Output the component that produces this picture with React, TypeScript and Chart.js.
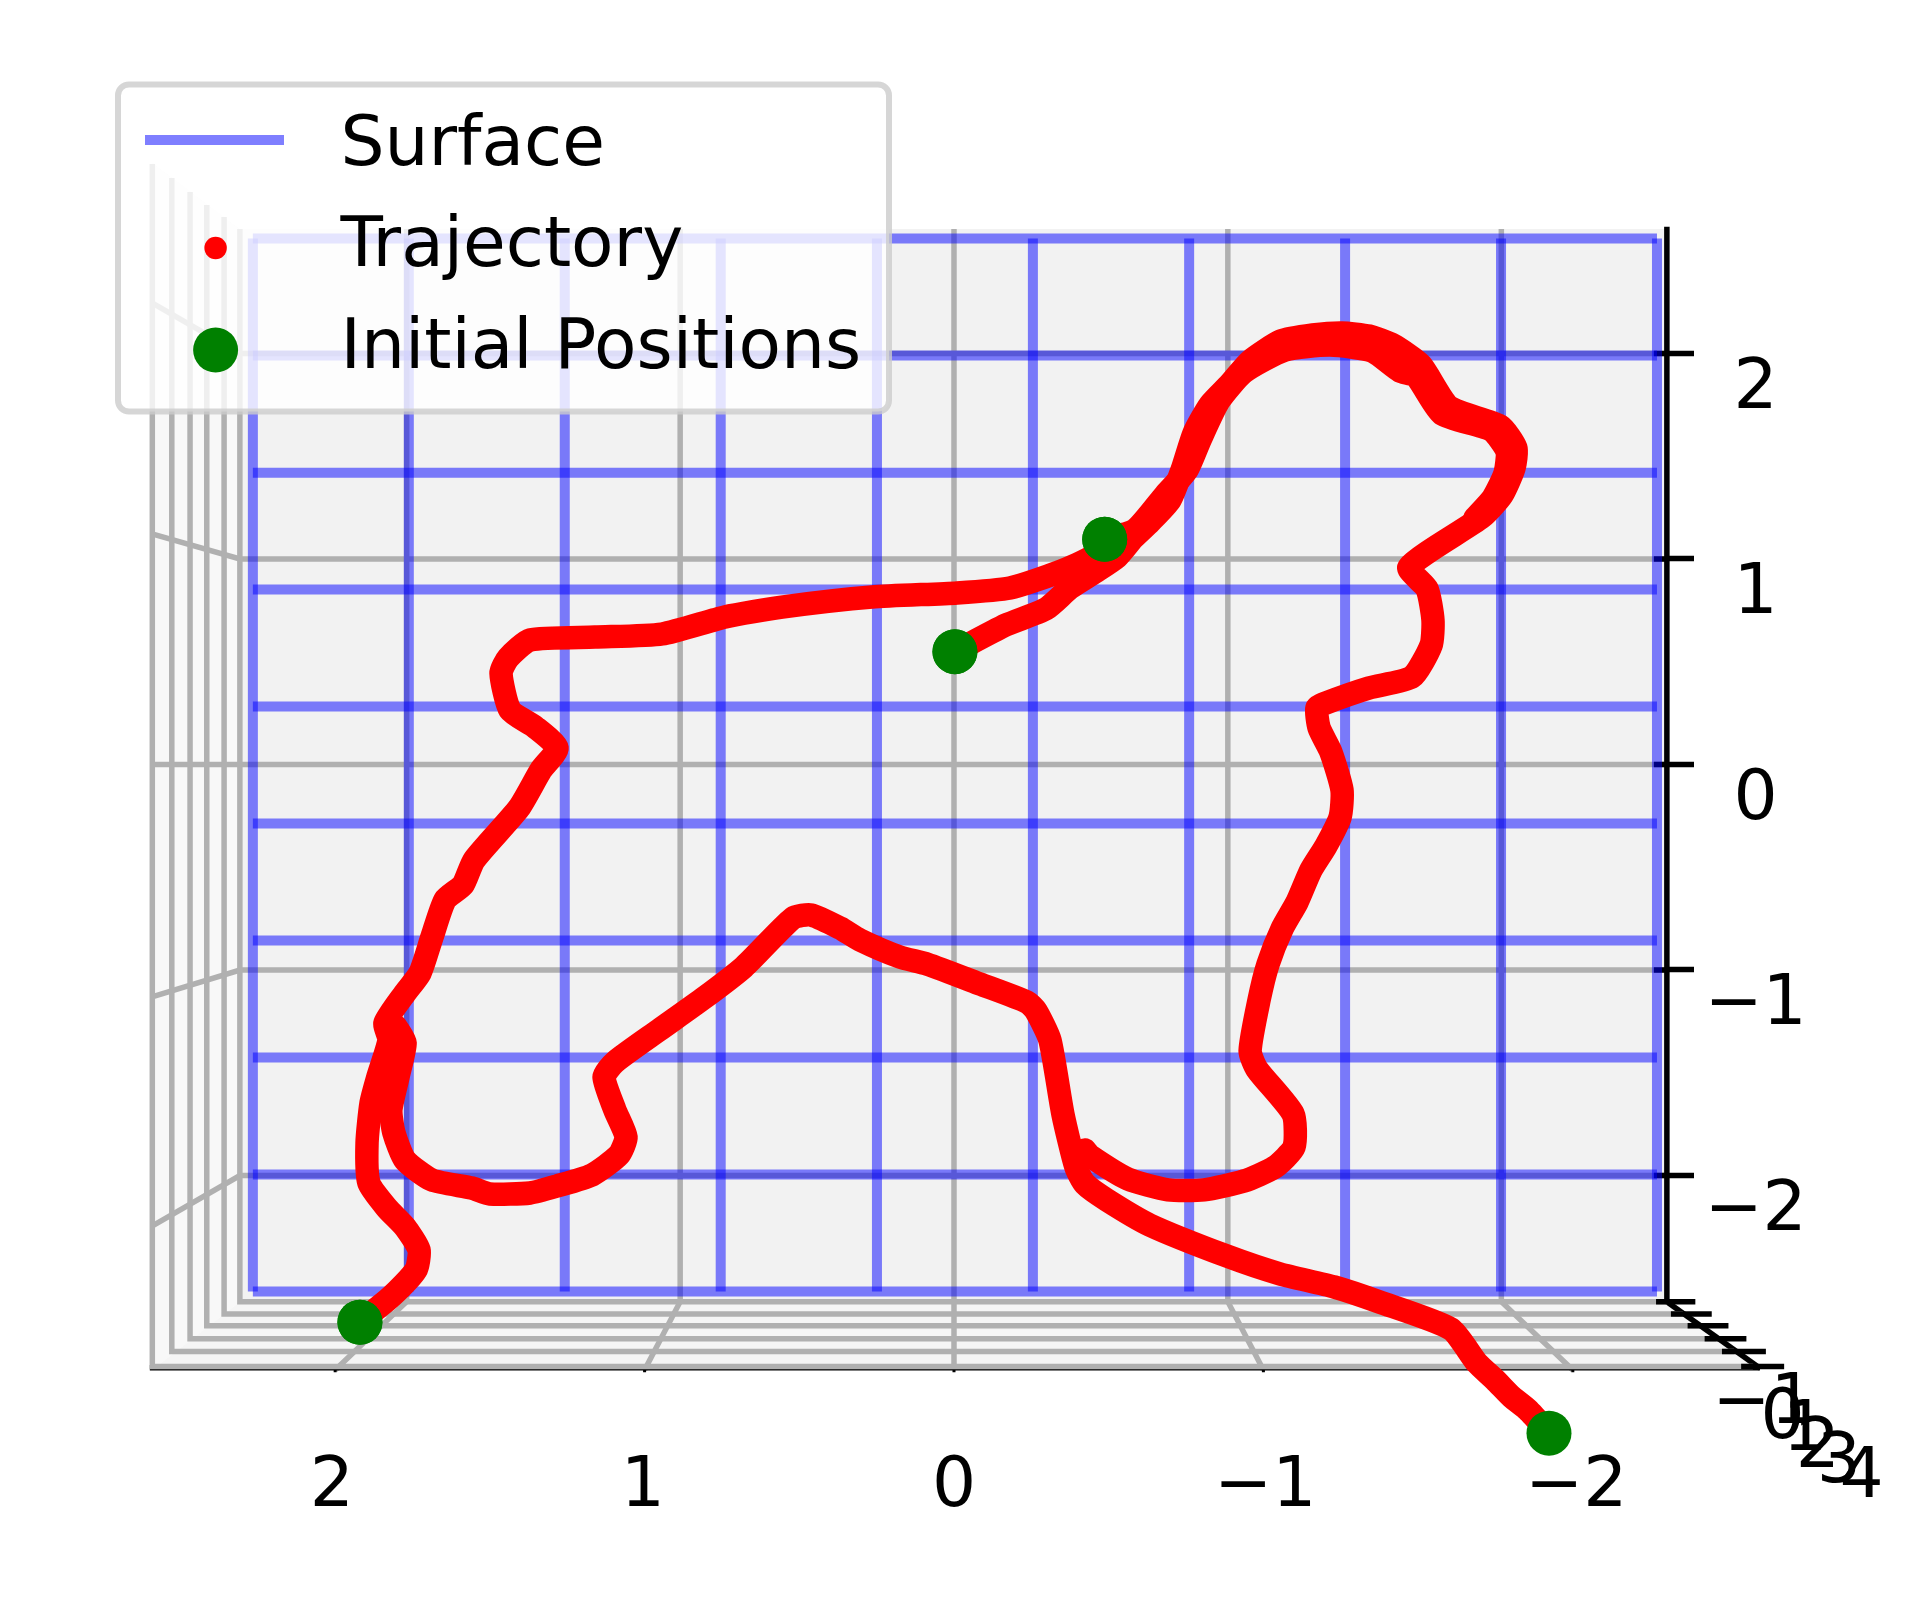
import React, { useEffect, useRef } from "react";
import { Chart, registerables } from "chart.js";

Chart.register(...registerables);

// ---- tick values ----
const xTicks = [2, 1, 0, -1, -2];
const xLabelPositions = [2.011, 1.006, 0, -1.006, -2.011];
const yTicks = [2, 1, 0, -1, -2];
const zTickLabels = ["\u22121", "0", "1", "2", "3", "4"];
const zLabelX = [-2.616, -2.678, -2.75, -2.792, -2.86, -2.933];
const zLabelY = [-3.206, -3.279, -3.336, -3.417, -3.49, -3.563];

// ---- surface wireframe (projected) ----
const surfaceX = [2.266, 1.762, 1.258, 0.754, 0.249, -0.255, -0.76, -1.264, -1.768, -2.272];
const surfaceY = [2.559, 1.99, 1.42, 0.851, 0.282, -0.287, -0.857, -1.426, -1.995, -2.565];

// ---- pane geometry (projected) ----
const backX = [2.308, -2.304];
const backY = [2.606, -2.614];
const frontX = [2.592, -2.605];
const frontY = [2.93, -2.946];
const backGridX = [1.769, 0.885, 0, -0.885, -1.769];
const leftGridY = [2.246, 1.122, 0, -1.131, -2.246];
const depthWallX = [2.308, 2.359, 2.415, 2.469, 2.528, 2.591];
const depthWallTop = [2.606, 2.664, 2.723, 2.786, 2.854, 2.922];
const depthFloorY = [-2.614, -2.674, -2.731, -2.794, -2.857, -2.93];
const depthFloorEnd = [-2.304, -2.356, -2.408, -2.463, -2.521, -2.582];
const depthTickStart = [-2.269, -2.317, -2.371, -2.426, -2.482, -2.544];
const depthTickEnd = [-2.396, -2.449, -2.503, -2.561, -2.624, -2.683];

// ---- trajectories ----
const initialPositions = [
  [-0.003, 0.549],
  [-0.487, 1.096],
  [1.92, -2.714],
  [-1.923, -3.254],
];
const trajectoryA = [
  [-0.003, 0.549], [-0.168, 0.679], [-0.297, 0.757], [-0.375, 0.859], [-0.456, 0.937],
  [-0.527, 1.01], [-0.579, 1.102], [-0.633, 1.18], [-0.698, 1.287], [-0.737, 1.433],
  [-0.776, 1.613], [-0.827, 1.749], [-0.889, 1.847], [-0.957, 1.963], [-1.057, 2.061],
  [-1.16, 2.09], [-1.254, 2.1], [-1.341, 2.085], [-1.419, 2.041], [-1.509, 1.944],
  [-1.6, 1.74], [-1.765, 1.647], [-1.816, 1.54], [-1.81, 1.443], [-1.771, 1.311],
  [-1.706, 1.204], [-1.471, 0.961], [-1.529, 0.854], [-1.548, 0.703], [-1.542, 0.581],
  [-1.48, 0.426], [-1.341, 0.372], [-1.202, 0.299], [-1.173, 0.275], [-1.18, 0.178],
  [-1.218, 0.061], [-1.254, -0.124], [-1.248, -0.255], [-1.202, -0.397], [-1.154, -0.513],
  [-1.109, -0.669], [-1.06, -0.8], [-1.015, -0.971], [-0.986, -1.146], [-0.957, -1.394],
  [-0.979, -1.482], [-1.096, -1.701], [-1.099, -1.861], [-1.037, -1.959], [-0.937, -2.027],
  [-0.808, -2.07], [-0.692, -2.07], [-0.562, -2.017], [-0.44, -1.905], [-0.423, -1.876],
];
const trajectoryB = [
  [-0.488, 1.097], [-0.585, 1.141], [-0.682, 1.311], [-0.753, 1.433], [-0.795, 1.579],
  [-0.856, 1.769], [-0.937, 1.91], [-1.07, 2.017], [-1.215, 2.041], [-1.351, 2.012],
  [-1.441, 1.915], [-1.493, 1.89], [-1.577, 1.706], [-1.736, 1.628], [-1.787, 1.525],
  [-1.781, 1.418], [-1.742, 1.297], [-1.684, 1.199],
];
const trajectoryC = [
  [1.92, -2.713], [1.82, -2.591], [1.739, -2.46], [1.729, -2.362], [1.774, -2.251],
  [1.833, -2.158], [1.891, -2.036], [1.897, -1.842], [1.884, -1.647], [1.862, -1.521],
  [1.826, -1.341], [1.839, -1.258], [1.774, -1.112], [1.726, -1.015], [1.687, -0.839],
  [1.645, -0.659], [1.587, -0.586], [1.551, -0.465], [1.406, -0.212], [1.335, -0.027],
  [1.283, 0.08], [1.354, 0.182], [1.435, 0.265], [1.464, 0.445], [1.441, 0.518],
  [1.37, 0.606], [1.16, 0.62], [0.944, 0.635], [0.74, 0.718], [0.556, 0.766],
  [0.265, 0.815], [-0.01, 0.835], [-0.181, 0.859], [-0.339, 0.937], [-0.456, 1.019],
  [-0.488, 1.097],
];
const trajectoryD = [
  [-1.923, -3.253], [-1.855, -3.141], [-1.803, -3.078], [-1.749, -2.995], [-1.69, -2.912],
  [-1.606, -2.747], [-1.374, -2.615], [-1.228, -2.542], [-1.054, -2.479], [-0.882, -2.392],
  [-0.633, -2.241], [-0.494, -2.119], [-0.423, -2.041], [-0.394, -1.959], [-0.352, -1.701],
  [-0.31, -1.341], [-0.265, -1.199], [-0.236, -1.156], [-0.084, -1.068], [0.087, -0.971],
  [0.175, -0.937], [0.304, -0.854], [0.368, -0.796], [0.462, -0.732], [0.52, -0.747],
  [0.679, -0.985], [0.808, -1.136], [0.953, -1.292], [1.096, -1.448], [1.131, -1.521],
  [1.096, -1.681], [1.06, -1.813], [1.083, -1.9], [1.17, -1.997], [1.283, -2.051],
  [1.37, -2.085], [1.5, -2.09], [1.558, -2.061], [1.687, -2.022], [1.774, -1.925],
  [1.81, -1.793], [1.82, -1.681], [1.797, -1.521], [1.774, -1.355], [1.803, -1.277],
];
const legendLabels = ["Surface", "Trajectory", "Initial Positions"];

const FONT = "'DejaVu Sans'";
const GRID = "#b0b0b0";
const BLUE = "rgba(0,0,255,0.5)";
const fmt = (v: number) => (v < 0 ? "\u2212" + Math.abs(v) : String(v));
const pts = (a: number[][]) => a.map(([x, y]) => ({ x, y }));

function line(points: number[][], color: string, width: number, extra: any = {}) {
  return {
    data: pts(points),
    showLine: true,
    borderColor: color,
    borderWidth: width,
    pointRadius: 0,
    clip: false,
    tension: 0,
    borderCapStyle: "butt",
    borderJoinStyle: "miter",
    ...extra,
  };
}

function buildDatasets() {
  const ds: any[] = [];
  const [bl, br] = backX;
  const [bt, bb] = backY;
  // wall grid
  yTicks.forEach((v, i) => {
    ds.push(line([[frontX[0], leftGridY[i]], [bl, v], [br, v]], GRID, 5.5));
  });
  xTicks.forEach((v, i) => {
    ds.push(line([[backGridX[i], bt], [backGridX[i], bb], [v, frontY[1]]], GRID, 5.5));
  });
  // black axes, under the depth grid
  ds.push(line([[2.599, -2.936], [frontX[1], -2.936]], "#000", 5.5));
  ds.push(line([[br, -2.614], [-2.605, -2.938]], "#000", 5.5));
  ds.push(line([[br, 2.617], [br, bb]], "#000", 5.5));
  xTicks.forEach((v) => {
    ds.push(line([[v, -2.93], [v, -2.9575]], "#000", 3));
  });
  // depth grid
  depthWallX.forEach((x, i) => {
    ds.push(
      line([[x, depthWallTop[i]], [x, depthFloorY[i]], [depthFloorEnd[i], depthFloorY[i]]], GRID, 5.5)
    );
  });
  depthTickStart.forEach((x, i) => {
    ds.push(line([[x, depthFloorY[i]], [depthTickEnd[i], depthFloorY[i]]], "#000", 5.5));
  });
  yTicks.forEach((v) => {
    ds.push(line([[-2.262, v], [br, v]], "#000", 5.5));
  });
  // surface
  surfaceX.forEach((x) => {
    ds.push(line([[x, surfaceY[0]], [x, surfaceY[9]]], BLUE, 10));
  });
  surfaceY.forEach((y) => {
    ds.push(line([[surfaceX[0], y], [surfaceX[9], y]], BLUE, 10));
  });
  // trajectories
  [trajectoryA, trajectoryB, trajectoryC, trajectoryD].forEach((t) => {
    ds.push(
      line(t, "#ff0000", 23.5, {
        borderCapStyle: "round",
        borderJoinStyle: "round",
        label: legendLabels[1],
        tension: 0.2,
        capBezierPoints: false,
      })
    );
  });
  ds.push({
    label: legendLabels[2],
    data: pts(initialPositions),
    showLine: false,
    pointRadius: 22.5,
    pointBackgroundColor: "#008000",
    pointBorderWidth: 0,
    clip: false,
  });
  ds.forEach((d, i) => (d.order = ds.length - i));
  return ds;
}

const panesPlugin = {
  id: "panes",
  beforeDatasetsDraw(chart: any) {
    const { ctx, scales } = chart;
    const X = (v: number) => scales.x.getPixelForValue(v);
    const Y = (v: number) => scales.y.getPixelForValue(v);
    const poly = (p: number[][], c: string) => {
      ctx.save();
      ctx.fillStyle = c;
      ctx.beginPath();
      p.forEach(([x, y], i) => (i ? ctx.lineTo(X(x), Y(y)) : ctx.moveTo(X(x), Y(y))));
      ctx.closePath();
      ctx.fill();
      ctx.restore();
    };
    const [bl, br] = backX;
    const [bt, bb] = backY;
    const [fl, fr] = frontX;
    const [ft, fb] = frontY;
    poly([[fl, ft], [bl, bt], [bl, bb], [fl, fb]], "#f8f8f8");
    poly([[bl, bb], [br, bb], [fr, fb], [fl, fb]], "#f5f5f5");
    poly([[bl, bt], [br, bt], [br, bb], [bl, bb]], "#f2f2f2");
  },
};

const overlayPlugin = {
  id: "overlay",
  afterDatasetsDraw(chart: any) {
    const { ctx, scales } = chart;
    ctx.save();
    // initial positions that lie outside the chart area are skipped by the
    // point element, so all of them are stamped through the scales here
    ctx.fillStyle = "#008000";
    initialPositions.forEach(([x, y]) => {
      ctx.beginPath();
      ctx.arc(scales.x.getPixelForValue(x), scales.y.getPixelForValue(y), 22.5, 0, Math.PI * 2);
      ctx.fill();
    });
    // depth-axis tick labels
    ctx.fillStyle = "#000";
    ctx.font = `69.44px ${FONT}`;
    ctx.textAlign = "center";
    ctx.textBaseline = "alphabetic";
    zTickLabels.forEach((t, i) => {
      ctx.fillText(t, scales.x.getPixelForValue(zLabelX[i]), scales.y.getPixelForValue(zLabelY[i]));
    });
    // legend frame
    ctx.beginPath();
    ctx.roundRect(118, 84.5, 771, 327, 11);
    ctx.fillStyle = "rgba(255,255,255,0.8)";
    ctx.fill();
    ctx.lineWidth = 6;
    ctx.strokeStyle = "rgba(204,204,204,0.8)";
    ctx.stroke();
    // legend handles
    ctx.strokeStyle = BLUE;
    ctx.lineWidth = 10;
    ctx.lineCap = "butt";
    ctx.beginPath();
    ctx.moveTo(145, 140);
    ctx.lineTo(284, 140);
    ctx.stroke();
    ctx.fillStyle = "#ff0000";
    ctx.beginPath();
    ctx.arc(215.6, 248, 11.2, 0, Math.PI * 2);
    ctx.fill();
    ctx.fillStyle = "#008000";
    ctx.beginPath();
    ctx.arc(215.6, 350, 22.5, 0, Math.PI * 2);
    ctx.fill();
    // legend text
    ctx.fillStyle = "#000";
    ctx.textAlign = "left";
    ctx.fillText(legendLabels[0], 340.4, 165);
    ctx.fillText(legendLabels[1], 340.4, 265.7);
    ctx.fillText(legendLabels[2], 340.4, 368);
    ctx.restore();
  },
};

export default function App() {
  const ref = useRef<HTMLCanvasElement>(null);
  useEffect(() => {
    const chart = new Chart(ref.current as HTMLCanvasElement, {
      type: "scatter",
      data: { datasets: buildDatasets() },
      plugins: [panesPlugin, overlayPlugin],
      options: {
        animation: false,
        responsive: false,
        devicePixelRatio: 1,
        events: [],
        layout: { padding: { left: 152, top: 228, right: 0, bottom: 0 } },
        plugins: { legend: { display: false }, tooltip: { enabled: false } },
        scales: {
          x: {
            type: "linear",
            reverse: true,
            min: -2.3044,
            max: 2.592,
            position: "bottom",
            afterFit: (s: any) => {
              s.height = 228;
            },
            afterBuildTicks: (s: any) => {
              s.ticks = xLabelPositions.map((value) => ({ value }));
            },
            border: { display: false },
            grid: { drawOnChartArea: false, drawTicks: false },
            ticks: {
              autoSkip: false,
              maxRotation: 0,
              minRotation: 0,
              padding: 76.6,
              color: "#000",
              font: { family: FONT, size: 69.44 },
              callback: (_v: any, i: number) => fmt(xTicks[i]),
            },
          },
          y: {
            type: "linear",
            min: -2.9465,
            max: 2.6107,
            position: "right",
            afterFit: (s: any) => {
              s.width = 251;
            },
            afterBuildTicks: (s: any) => {
              s.ticks = yTicks.map((value) => ({ value }));
            },
            border: { display: false },
            grid: { drawOnChartArea: false, tickLength: 27, tickColor: "#000", tickWidth: 5.5 },
            ticks: {
              autoSkip: false,
              padding: 10.4,
              crossAlign: "center",
              labelOffset: 36,
              color: "#000",
              font: { family: FONT, size: 69.44 },
              callback: (v: any) => fmt(Number(v)),
            },
          },
        },
      } as any,
    });
    return () => chart.destroy();
  }, []);
  return (
    <canvas
      ref={ref}
      width={1918}
      height={1598}
      style={{ position: "absolute", left: 0, top: 0, display: "block", width: 1918, height: 1598 }}
    />
  );
}
